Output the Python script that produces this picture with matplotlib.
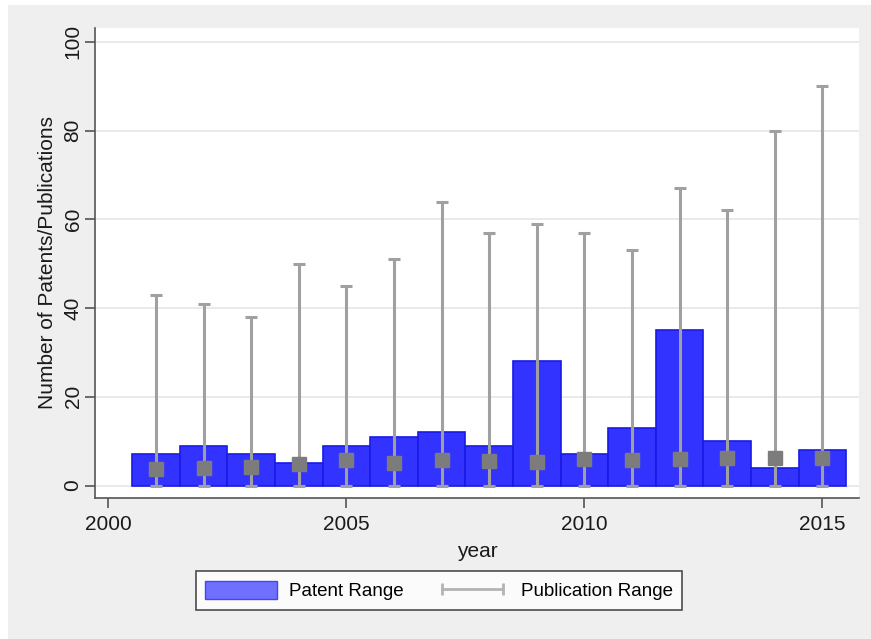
import matplotlib
matplotlib.use("Agg")
import matplotlib.pyplot as plt
import matplotlib.patches as mpatches
from matplotlib.lines import Line2D
import numpy as np

plt.rcParams["font.family"] = ["Liberation Sans", "DejaVu Sans"]

# data
years = [2001, 2002, 2003, 2004, 2005, 2006, 2007, 2008,
         2009, 2010, 2011, 2012, 2013, 2014, 2015]
patents = [7, 9, 7, 5, 9, 11, 12, 9, 28, 7, 13, 35, 10, 4, 8]
pub_low = [0] * 15
pub_high = [43, 41, 38, 50, 45, 51, 64, 57, 59, 57, 53, 67, 62, 80, 90]
pub_mid = [3.7, 4.0, 4.2, 4.9, 5.7, 5.1, 5.7, 5.5, 5.4, 6.0, 5.7, 6.0, 6.3, 6.3, 6.3]
y_ticks = [0, 20, 40, 60, 80, 100]
x_ticks = [2000, 2005, 2010, 2015]

BG = "#EFEFEF"
BAR = "#3333FF"
BAR_EDGE = "#1A1AE6"
RANGE = "#A0A0A0"
MARK = "#7C7C7C"
AXIS = "#555555"

W, H = 871, 639
fig = plt.figure(figsize=(W / 100, H / 100), dpi=100, facecolor="white")
# gray graph region with a thin white margin at top/left
fig.patches.append(mpatches.Rectangle((8 / W, 0), 1, 1 - 5 / H,
                                      transform=fig.transFigure,
                                      facecolor=BG, edgecolor="none",
                                      zorder=-10))

ax = fig.add_axes([0.1091, 0.2207, 0.8771, 0.7355])
ax.set_facecolor("white")

yrs = np.array(years)
lo = np.array(pub_low)
hi = np.array(pub_high)

ax.bar(yrs, patents, width=1.0, color=BAR, edgecolor=BAR_EDGE,
       linewidth=1.2, zorder=2)
ax.errorbar(yrs, (lo + hi) / 2, yerr=(hi - lo) / 2, fmt="none",
            ecolor=RANGE, elinewidth=2.2, capsize=4.5, capthick=2.2, zorder=3)
ax.plot(yrs, pub_mid, "s", color=MARK, markersize=10.5, zorder=4)

ax.set_xlim(1999.72, 2015.77)
ax.set_ylim(-2.8, 103.1)
ax.set_yticks(y_ticks)
ax.set_xticks(x_ticks)
ax.yaxis.grid(True, color="#E6E6E6", linewidth=1.2, zorder=0)
ax.set_axisbelow(True)

for s in ["top", "right"]:
    ax.spines[s].set_visible(False)
for s in ["left", "bottom"]:
    ax.spines[s].set_color(AXIS)
    ax.spines[s].set_linewidth(1.2)
ax.tick_params(axis="both", colors=AXIS, length=7, width=1.2,
               labelsize=15, labelcolor="#1a1a1a", pad=5)
ax.tick_params(axis="y", pad=2)
plt.setp(ax.get_yticklabels(), rotation=90, va="center")

ax.set_xlabel("year", fontsize=15, color="#1a1a1a", labelpad=6)
ax.set_ylabel("Number of Patents/Publications", fontsize=15,
              color="#1a1a1a", labelpad=5)

handles = [
    mpatches.Patch(facecolor="#7070FF", edgecolor="#4444FF", linewidth=1.0,
                   label="Patent Range"),
    Line2D([], [], color="#B4B4B4", linewidth=2, marker="|",
           markersize=9, markeredgewidth=2, label="Publication Range"),
]
leg = fig.legend(handles=handles, loc="center",
                 bbox_to_anchor=(439 / W, 1 - 590.5 / H), ncol=2,
                 fontsize=13.5, frameon=True, fancybox=False, numpoints=2,
                 handlelength=3.85, handleheight=1.15, columnspacing=1.75,
                 handletextpad=0.65, borderpad=0.5)
leg.get_frame().set_edgecolor("#222222")
leg.get_frame().set_linewidth(1.2)
leg.get_frame().set_facecolor("white")

fig.savefig("out.png", dpi=100, facecolor="white")
